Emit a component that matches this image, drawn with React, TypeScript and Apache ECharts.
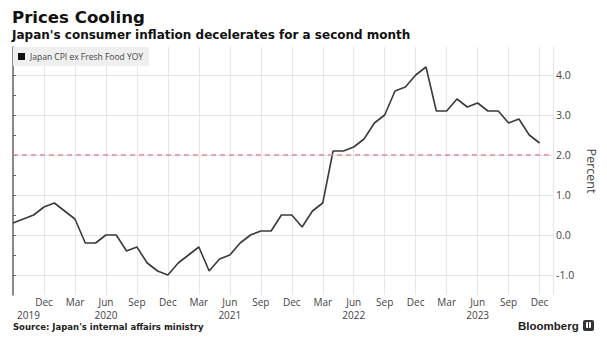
import React, { useEffect, useRef } from "react";
import * as echarts from "echarts";

// Monthly data, Sep 2019 .. Dec 2023 (index 0 = Sep 2019)
const monthNames = ["Jan", "Feb", "Mar", "Apr", "May", "Jun", "Jul", "Aug", "Sep", "Oct", "Nov", "Dec"];
const startMonth = 8; // Sep
const cpiValues = [
  0.3, 0.4, 0.5, 0.7,
  0.8, 0.6, 0.4, -0.2, -0.2, 0.0, 0.0, -0.4, -0.3, -0.7, -0.9, -1.0,
  -0.7, -0.5, -0.3, -0.9, -0.6, -0.5, -0.2, 0.0, 0.1, 0.1, 0.5, 0.5,
  0.2, 0.6, 0.8, 2.1, 2.1, 2.2, 2.4, 2.8, 3.0, 3.6, 3.7, 4.0,
  4.2, 3.1, 3.1, 3.4, 3.2, 3.3, 3.1, 3.1, 2.8, 2.9, 2.5, 2.3,
];
const yearLabelPositions = [1.5, 9, 21, 33, 45];
const yearLabels = ["2019", "2020", "2021", "2022", "2023"];
const yLabelValues = [-1, 0, 1, 2, 3, 4];
const yTickValues = [-1, -0.5, 0, 0.5, 1, 1.5, 2, 2.5, 3, 3.5, 4, 4.5];
const targetLine = 2;
const seriesName = "Japan CPI ex Fresh Food YOY";

const AXIS_FONT = "'Open Sans', 'DejaVu Sans', sans-serif";

export default function App() {
  const ref = useRef<HTMLDivElement>(null);
  useEffect(() => {
    if (!ref.current) return;
    const chart = echarts.init(ref.current, null, { renderer: "svg" });
    const data = cpiValues.map((v, i) => [i, v]);
    chart.setOption({
      animation: false,
      backgroundColor: "#ffffff",
      title: [
        {
          text: "Prices Cooling",
          left: 12,
          top: 9,
          padding: 0,
          textStyle: { fontFamily: "'DejaVu Sans', sans-serif", fontWeight: "bold", fontSize: 16.6, color: "#111" },
        },
        {
          text: "Japan's consumer inflation decelerates for a second month",
          left: 12,
          top: 29,
          padding: 0,
          textStyle: { fontFamily: "'DejaVu Sans', sans-serif", fontWeight: "bold", fontSize: 12, color: "#111" },
        },
        {
          text: "Source: Japan's internal affairs ministry",
          left: 13,
          top: 322,
          padding: 0,
          textStyle: { fontFamily: "'DejaVu Sans', sans-serif", fontWeight: "bold", fontSize: 8.5, color: "#222" },
        },
      ],
      legend: {
        left: 13,
        top: 47,
        padding: [5, 6, 5, 5],
        backgroundColor: "#efefef",
        icon: "rect",
        itemWidth: 7,
        itemHeight: 7,
        textStyle: { fontFamily: AXIS_FONT, fontSize: 8.5, color: "#444" },
        data: [{ name: seriesName, itemStyle: { color: "#111" } }],
      },
      grid: { left: 13, right: 54, top: 47, bottom: 45 },
      xAxis: [
        {
          type: "value",
          min: 0,
          max: 52.3,
          interval: 3,
          axisLine: { show: false },
          axisTick: { show: false },
          splitLine: { show: true, lineStyle: { color: "#e6e6e6", width: 1 } },
          axisLabel: {
            margin: 1,
            fontFamily: AXIS_FONT,
            fontSize: 10,
            lineHeight: 11,
            color: "#444",
            showMinLabel: true,
            showMaxLabel: true,
            formatter: (v: number) => {
              const i = Math.round(v);
              if (Math.abs(v - i) > 1e-6 || i === 0 || i % 3 !== 0) return "";
              return monthNames[(startMonth + i) % 12];
            },
          },
        },
        {
          type: "value",
          min: 0,
          max: 52.3,
          position: "bottom",
          offset: 13,
          axisLine: { show: false },
          axisTick: { show: false },
          splitLine: { show: false },
          axisLabel: {
            margin: 1,
            fontFamily: AXIS_FONT,
            fontSize: 10,
            lineHeight: 11,
            color: "#444",
            customValues: yearLabelPositions,
            formatter: (v: number) => {
              const k = yearLabelPositions.findIndex((p) => Math.abs(p - v) < 1e-6);
              return k >= 0 ? yearLabels[k] : "";
            },
          },
        },
      ],
      yAxis: {
        type: "value",
        position: "right",
        min: -1.5,
        max: 4.7,
        name: "Percent",
        nameLocation: "middle",
        nameRotate: -90,
        nameGap: 23,
        nameTextStyle: { fontFamily: AXIS_FONT, fontSize: 12.5, color: "#444" },
        axisLine: { show: true, lineStyle: { color: "#666", width: 1.5 } },
        axisTick: { show: true, length: 3, customValues: yTickValues, lineStyle: { color: "#666" } },
        splitLine: { show: true, lineStyle: { color: ["#e6e6e6", "rgba(0,0,0,0)"], width: 1 } },
        axisLabel: {
          margin: 3,
          fontFamily: AXIS_FONT,
          fontSize: 10.5,
          color: "#444",
          customValues: yLabelValues,
          formatter: (v: number) => v.toFixed(1),
        },
      },
      series: [
        {
          name: seriesName,
          type: "line",
          data,
          showSymbol: false,
          symbol: "none",
          lineStyle: { color: "#3a3a3a", width: 1.6 },
          itemStyle: { color: "#111" },
          markLine: {
            silent: true,
            symbol: ["none", "none"],
            label: { show: false },
            lineStyle: { color: "#e88a9c", type: [5, 4], width: 1.5 },
            data: [{ yAxis: targetLine }],
          },
        },
      ],
      graphic: [
        {
          type: "text",
          left: 518,
          top: 320,
          style: {
            text: "Bloomberg",
            fontFamily: "'Liberation Sans', sans-serif",
            fontWeight: "bold",
            fontSize: 11.5,
            fill: "#222",
          },
        },
        {
          type: "rect",
          shape: { x: 583, y: 320, width: 11, height: 11, r: 2 },
          style: { fill: "#333" },
        },
        {
          type: "rect",
          shape: { x: 586, y: 322, width: 5, height: 6, r: 1 },
          style: { fill: "#fff" },
        },
        {
          type: "rect",
          shape: { x: 588, y: 322, width: 1, height: 8 },
          style: { fill: "#333" },
        },
      ],
    });
    return () => chart.dispose();
  }, []);
  return (
    <div
      ref={ref}
      style={{ position: "fixed", left: 0, top: 0, width: 607, height: 340, background: "#fff" }}
    />
  );
}
